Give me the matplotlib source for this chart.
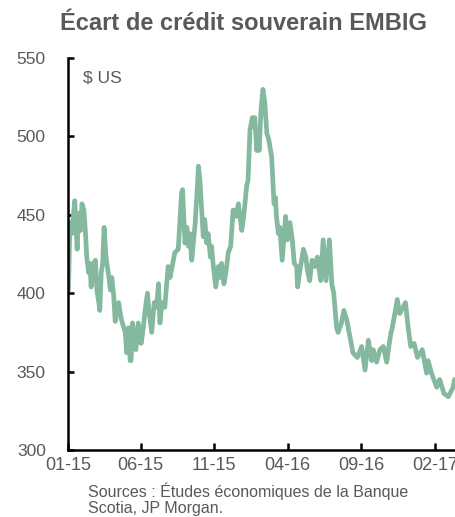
import matplotlib
matplotlib.use("Agg")
import matplotlib.pyplot as plt
import matplotlib.dates as mdates
import pandas as pd

dates = [
    "2015-01-02", "2015-01-05", "2015-01-09", "2015-01-15", "2015-01-20", "2015-01-23",
    "2015-01-27", "2015-01-30", "2015-02-03", "2015-02-06", "2015-02-09", "2015-02-13",
    "2015-02-16", "2015-02-18", "2015-02-23", "2015-02-27", "2015-03-02", "2015-03-06",
    "2015-03-08", "2015-03-11", "2015-03-14", "2015-03-17", "2015-03-21", "2015-03-27",
    "2015-03-30", "2015-04-02", "2015-04-06", "2015-04-09", "2015-04-16", "2015-04-22",
    "2015-04-27", "2015-04-30", "2015-05-03", "2015-05-07", "2015-05-10", "2015-05-12",
    "2015-05-15", "2015-05-19", "2015-05-22", "2015-05-27", "2015-06-02", "2015-06-06",
    "2015-06-11", "2015-06-15", "2015-06-18", "2015-06-24", "2015-06-29", "2015-07-04",
    "2015-07-08", "2015-07-11", "2015-07-15", "2015-07-21", "2015-07-25", "2015-07-28",
    "2015-08-01", "2015-08-08", "2015-08-11", "2015-08-18", "2015-08-25", "2015-08-27",
    "2015-09-01", "2015-09-05", "2015-09-08", "2015-09-11", "2015-09-15", "2015-09-22",
    "2015-09-26", "2015-09-29", "2015-10-02", "2015-10-06", "2015-10-09", "2015-10-12",
    "2015-10-16", "2015-10-19", "2015-10-24", "2015-10-26", "2015-10-30", "2015-11-04",
    "2015-11-09", "2015-11-13", "2015-11-16", "2015-11-21", "2015-11-25", "2015-11-30",
    "2015-12-05", "2015-12-10", "2015-12-16", "2015-12-21", "2015-12-28", "2016-01-01",
    "2016-01-07", "2016-01-10", "2016-01-14", "2016-01-19", "2016-01-22", "2016-01-24",
    "2016-01-28", "2016-01-31", "2016-02-02", "2016-02-06", "2016-02-10", "2016-02-14",
    "2016-02-18", "2016-02-22", "2016-02-28", "2016-03-04", "2016-03-07", "2016-03-09",
    "2016-03-13", "2016-03-16", "2016-03-21", "2016-03-28", "2016-04-01", "2016-04-06",
    "2016-04-11", "2016-04-15", "2016-04-20", "2016-04-22", "2016-04-27", "2016-05-04",
    "2016-05-09", "2016-05-12", "2016-05-17", "2016-05-22", "2016-05-28", "2016-06-02",
    "2016-06-09", "2016-06-14", "2016-06-20", "2016-06-27", "2016-07-02", "2016-07-06",
    "2016-07-12", "2016-07-15", "2016-07-22", "2016-07-27", "2016-08-02", "2016-08-07",
    "2016-08-15", "2016-08-24", "2016-09-02", "2016-09-09", "2016-09-16", "2016-09-23",
    "2016-09-26", "2016-10-03", "2016-10-10", "2016-10-17", "2016-10-24", "2016-10-29",
    "2016-11-02", "2016-11-04", "2016-11-10", "2016-11-15", "2016-11-20", "2016-11-27",
    "2016-12-02", "2016-12-08", "2016-12-13", "2016-12-20", "2016-12-27", "2017-01-06",
    "2017-01-15", "2017-01-18", "2017-01-25", "2017-02-05", "2017-02-11", "2017-02-20",
    "2017-03-01", "2017-03-11", "2017-03-14",
]
spread = [
    402, 445, 438, 459, 428, 451,
    440, 457, 453, 440, 423, 413,
    419, 404, 419, 421, 402, 394,
    389, 413, 419, 442, 423, 410,
    402, 410, 398, 382, 394, 383,
    378, 375, 362, 378, 357, 357,
    381, 368, 364, 381, 368, 377,
    391, 400, 389, 375, 394, 391,
    406, 381, 394, 391, 406, 417,
    410, 421, 426, 428, 464, 466,
    432, 442, 430, 438, 421, 444,
    464, 481, 472, 451, 436, 447,
    432, 438, 423, 430, 417, 404,
    417, 410, 419, 406, 413, 426,
    430, 453, 449, 457, 440, 449,
    468, 472, 504, 512, 506, 512,
    491, 502, 491, 517, 530, 521,
    502, 498, 487, 457, 461, 449,
    438, 442, 421, 449, 434, 445,
    434, 419, 417, 404, 415, 428,
    423, 415, 408, 421, 417, 423,
    408, 434, 408, 434, 406, 400,
    378, 375, 381, 389, 383, 375,
    362, 359, 366, 351, 370, 357,
    364, 356, 364, 366, 356, 367,
    375, 377, 387, 396, 387, 391,
    394, 377, 366, 368, 359, 364,
    349, 357, 349, 340, 345, 336,
    334, 340, 345,
]
tick_dates = ["2015-01-01", "2015-06-01", "2015-11-01", "2016-04-01", "2016-09-01", "2017-02-01"]
y_ticks = [300, 350, 400, 450, 500, 550]

title = "Écart de crédit souverain EMBIG"
unit = "$ US"
source = "Sources : Études économiques de la Banque\nScotia, JP Morgan."

grey = "#595959"
line_color = "#84b99f"

plt.rcParams["font.family"] = ["Liberation Sans", "DejaVu Sans"]

fig = plt.figure(figsize=(4.56, 5.17), dpi=100)
ax = fig.add_axes([68 / 456, 1 - 450 / 517, (456 - 68) / 456, (450 - 58) / 517])

x = pd.to_datetime(dates)
ax.plot(x, spread, color=line_color, lw=3.4, solid_joinstyle="round", solid_capstyle="round")

ax.set_ylim(300, 550)
ax.set_xlim(pd.Timestamp("2015-01-01"), pd.Timestamp("2017-03-17"))
ax.set_yticks(y_ticks)
ax.set_xticks(pd.to_datetime(tick_dates))
ax.xaxis.set_major_formatter(mdates.DateFormatter("%m-%y"))

for s in ["top", "right"]:
    ax.spines[s].set_visible(False)
for s in ["left", "bottom"]:
    ax.spines[s].set_linewidth(1.8)
    ax.spines[s].set_color("black")

ax.tick_params(axis="y", direction="in", length=4, width=1.8, pad=16, labelsize=12.5, labelcolor=grey)
ax.tick_params(axis="x", direction="in", length=5, width=1.8, pad=5, labelsize=13, labelcolor=grey)

fig.text(83 / 456, 1 - 78 / 517, unit, fontsize=12.5, color=grey, va="center", ha="left")
fig.text(244 / 456, 1 - 23 / 517, title, fontsize=17, fontweight="bold", color=grey, ha="center", va="center")
fig.text(88 / 456, 1 - 499 / 517, source, fontsize=11.5, color=grey, ha="left", va="center", linespacing=1.05)

fig.savefig("out.png", dpi=100)
